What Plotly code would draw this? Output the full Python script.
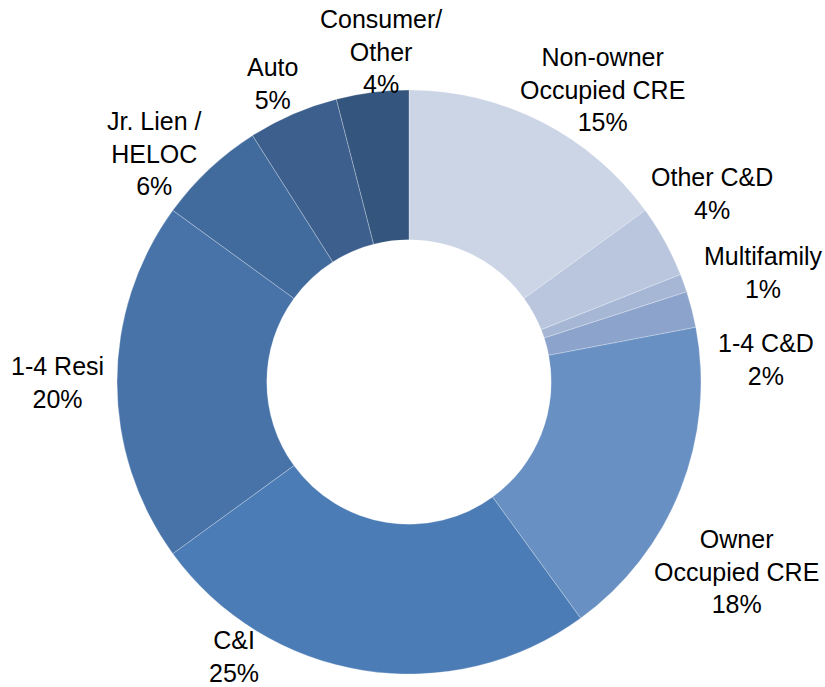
import math
import plotly.graph_objects as go

# ---- data ----
categories = ["Non-owner<br>Occupied CRE", "Other C&D", "Multifamily", "1-4 C&D",
              "Owner<br>Occupied CRE", "C&I", "1-4 Resi", "Jr. Lien /<br>HELOC",
              "Auto", "Consumer/<br>Other"]
values = [15, 4, 1, 2, 18, 25, 20, 6, 5, 4]
pct_labels = ["15%", "4%", "1%", "2%", "18%", "25%", "20%", "6%", "5%", "4%"]

# ---- style / layout config ----
colors = ["#CBD5E6", "#B9C6DE", "#A6B7D6", "#8CA4CC", "#6990C3",
          "#4C7CB5", "#4773A9", "#426B9D", "#3D5F8E", "#34567E"]
# label placement: (angle nudge in degrees, distance from centre in px, vertical shift px)
label_place = [(6.3, 352, 2), (-3.3, 358, 2), (2.4, 372, 2), (10.4, 358, 2), (8.2, 377, 2),
               (23.4, 326, -1), (0.3, 352, 2), (-4.6, 343, 2), (-1.1, 330, 2), (2.4, 334, 2)]

W, H = 825, 687
CX, CY, R = 409, 382, 292

fig = go.Figure(go.Pie(
    labels=categories,
    values=values,
    sort=False,
    direction="clockwise",
    rotation=0,
    hole=0.487,
    marker=dict(colors=colors, line=dict(color="rgba(255,255,255,0.45)", width=0.6)),
    textinfo="none",
    hoverinfo="skip",
    showlegend=False,
    domain=dict(x=[(CX - R) / W, (CX + R) / W], y=[(H - CY - R) / H, (H - CY + R) / H]),
))

total = sum(values)
cum = 0
annotations = []
for cat, v, p, (nudge, dist, dy) in zip(categories, values, pct_labels, label_place):
    mid = (cum + v / 2) / total * 360.0
    cum += v
    ang = math.radians(mid + nudge)
    px = CX + dist * math.sin(ang)
    py = CY - dist * math.cos(ang) + dy
    annotations.append(dict(
        x=px / W, y=1 - py / H, xref="paper", yref="paper",
        text=f"{cat}<br>{p}", showarrow=False,
        xanchor="center", yanchor="middle", align="center",
        font=dict(family="Liberation Sans, Arial, sans-serif", size=25, color="#000000"),
    ))

fig.update_layout(
    width=W, height=H,
    margin=dict(l=0, r=0, t=0, b=0),
    paper_bgcolor="white", plot_bgcolor="white",
    annotations=annotations,
)

fig.write_html(
    "out.html",
    config={"displayModeBar": False},
    post_script="document.body.style.margin='0';document.body.style.overflow='hidden';",
)
